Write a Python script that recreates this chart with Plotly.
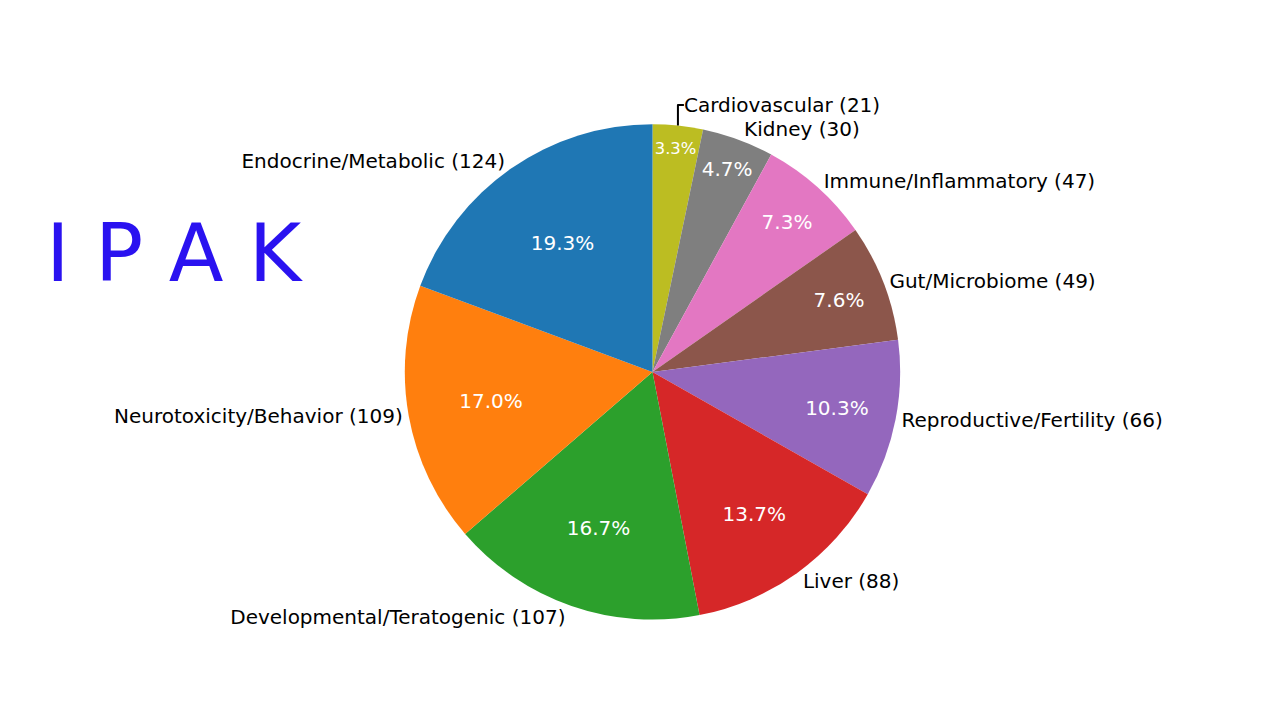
import plotly.graph_objects as go

# listed clockwise from 12 o'clock
categories = ["Cardiovascular", "Kidney", "Immune/Inflammatory", "Gut/Microbiome",
              "Reproductive/Fertility", "Liver", "Developmental/Teratogenic",
              "Neurotoxicity/Behavior", "Endocrine/Metabolic"]
counts = [21, 30, 47, 49, 66, 88, 107, 109, 124]
colors = ["#bcbd22", "#7f7f7f", "#e377c2", "#8c564b", "#9467bd", "#d62728",
          "#2ca02c", "#ff7f0e", "#1f77b4"]

total = sum(counts)
pct_text = [f"{c / total * 100:.1f}%" for c in counts]
outer_text = [f"{n} ({c})" for n, c in zip(categories, counts)]

domain = {"x": [0.31, 0.697], "y": [0.144, 0.838]}
font = "DejaVu Sans, sans-serif"

fig = go.Figure()
fig.add_trace(go.Pie(
    labels=categories, values=counts, sort=False, direction="clockwise",
    rotation=0, marker={"colors": colors}, text=pct_text, textinfo="text",
    textposition="inside", insidetextorientation="horizontal",
    textfont={"color": "white", "size": 20, "family": font},
    domain=domain, showlegend=False, hoverinfo="label+value",
))
fig.add_trace(go.Pie(
    labels=categories, values=counts, sort=False, direction="clockwise",
    rotation=0, marker={"colors": ["rgba(0,0,0,0)"] * len(counts)},
    text=outer_text, textinfo="text", textposition="outside",
    textfont={"color": "black", "size": 20, "family": font},
    outsidetextfont={"color": "black", "size": 20, "family": font},
    domain=domain, showlegend=False, hoverinfo="skip", automargin=False,
))
fig.add_annotation(
    x=0.028, y=0.657, xref="paper", yref="paper", xanchor="left", showarrow=False,
    text="I P A K", font={"size": 80, "color": "#2a12f0", "family": "DejaVu Sans, sans-serif"},
)
fig.update_layout(
    width=1280, height=715, margin={"l": 0, "r": 0, "t": 0, "b": 0},
    paper_bgcolor="white", plot_bgcolor="white",
)
fig.write_html("out.html")
